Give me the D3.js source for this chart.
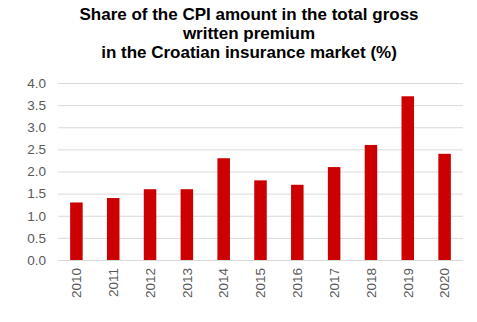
<!DOCTYPE html>
<html><head><meta charset="utf-8">
<script src="https://cdn.jsdelivr.net/npm/d3@7"></script>
<style>body{margin:0;background:#fff}text{font-family:"Liberation Sans",Arial,sans-serif}</style>
</head><body><svg id="c" width="477" height="322"></svg>
<script>
const years = ["2010","2011","2012","2013","2014","2015","2016","2017","2018","2019","2020"];
const values = [1.3,1.4,1.6,1.6,2.3,1.8,1.7,2.1,2.6,3.7,2.4];
const yTicks = [0,0.5,1,1.5,2,2.5,3,3.5,4];
const titleLines = ["Share of the CPI amount in the total gross","written premium","in the Croatian insurance market (%)"];

const svg = d3.select("#c");
const m = {l:58, r:14, t:83, b:62};
const W = 477, H = 322;
const x = d3.scaleBand().domain(years).range([m.l, W-m.r]).paddingInner(0.66).paddingOuter(0.33);
const y = d3.scaleLinear().domain([0,4]).range([H-m.b, m.t]);

svg.append("g").selectAll("text").data(titleLines).join("text")
  .attr("x", 249).attr("y",(d,i)=>20+i*19).attr("text-anchor","middle")
  .attr("font-size",17).attr("font-weight","bold").attr("fill","#000").text(d=>d);

const ya = svg.append("g").attr("transform",`translate(${m.l},0)`)
  .call(d3.axisLeft(y).tickValues(yTicks).tickFormat(d3.format(".1f")).tickSize(-(W-m.l-m.r)).tickPadding(12));
ya.select(".domain").remove();
ya.selectAll("line").attr("stroke","#d9d9d9");
ya.selectAll("text").attr("font-size",13.5).attr("fill","#595959");

svg.append("g").selectAll("rect").data(values).join("rect")
  .attr("x",(d,i)=>x(years[i])).attr("width",x.bandwidth())
  .attr("y",d=>y(d)).attr("height",d=>y(0)-y(d)).attr("fill","#cc0000");

const xa = svg.append("g").attr("transform",`translate(0,${H-m.b})`)
  .call(d3.axisBottom(x).tickSize(0).tickPadding(0));
xa.select(".domain").remove();
xa.selectAll("text").attr("font-size",13.5).attr("fill","#595959")
  .attr("transform","rotate(-90)").attr("text-anchor","end").attr("dy","0.35em").attr("x",-8).attr("y",0);
</script></body></html>
